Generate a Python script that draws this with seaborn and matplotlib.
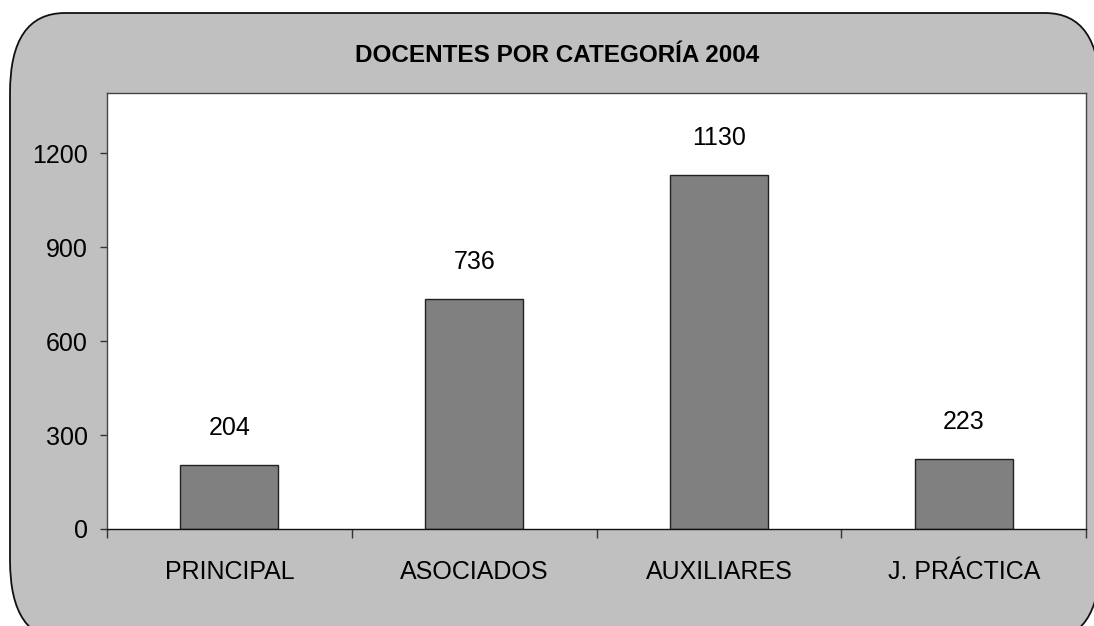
import matplotlib.pyplot as plt
import seaborn as sns
import numpy as np
import pandas as pd
from matplotlib.patches import FancyBboxPatch
from matplotlib.transforms import IdentityTransform

categories = ['PRINCIPAL', 'ASOCIADOS', 'AUXILIARES', 'J. PRÁCTICA']
docentes = [204, 736, 1130, 223]
y_ticks = [0, 300, 600, 900, 1200]
title = 'DOCENTES POR CATEGORÍA 2004'

sns.set_theme(style="white")
plt.rcParams['font.family'] = ['Liberation Sans Narrow', 'Liberation Sans', 'DejaVu Sans']
plt.rcParams['text.color'] = 'black'
plt.rcParams['xtick.color'] = 'black'
plt.rcParams['ytick.color'] = 'black'

fig = plt.figure(figsize=(10.94, 6.26), dpi=100)
fig.patch.set_facecolor('white')

# rounded grey frame behind the chart (pixel coords)
frame = FancyBboxPatch((10, -14), 1090, 627,
                       boxstyle="round,pad=0,rounding_size=55",
                       mutation_aspect=1.45,
                       transform=IdentityTransform(),
                       facecolor='#c0c0c0', edgecolor='#111111', linewidth=1.3,
                       zorder=-5)
fig.patches.append(frame)

ax = fig.add_axes([0.0978, 0.155, 0.895, 0.696])
ax.set_zorder(2)
df = pd.DataFrame({'cat': categories, 'val': docentes})
sns.barplot(data=df, x='cat', y='val', color='#808080', width=0.4,
            edgecolor='#222222', linewidth=1, saturation=1, ax=ax)

ax.set_facecolor('white')
ax.set_ylim(0, 1392)
ax.set_xlim(-0.5, len(categories) - 0.5)
ax.set_yticks(y_ticks)
ax.set_yticklabels([str(t) for t in y_ticks], fontsize=18)
ax.tick_params(axis='y', direction='out', length=5, width=1, color='#333333',
               pad=9, left=True)

# category boundaries as ticks, labels in the middle
ax.set_xticks(np.arange(len(categories) + 1) - 0.5)
ax.set_xticklabels([])
ax.set_xticks(np.arange(len(categories)), minor=True)
ax.set_xticklabels(categories, minor=True, fontsize=18)
ax.tick_params(axis='x', which='major', direction='out', length=6.5, width=1,
               color='#333333', bottom=True)
ax.tick_params(axis='x', which='minor', length=0, pad=22)
ax.set_xlabel('')
ax.set_ylabel('')

for s in ax.spines.values():
    s.set_color('#444444')
    s.set_linewidth(1)
ax.spines['bottom'].set_color('#111111')

for i, v in enumerate(docentes):
    ax.annotate(str(v), xy=(i, v), xytext=(0, 26.5), textcoords='offset points',
                ha='center', va='center', fontsize=18)

fig.text(0.509, 0.912, title, ha='center', va='center', fontsize=17.5,
         fontweight='bold')

fig.savefig('out.png', dpi=100)
